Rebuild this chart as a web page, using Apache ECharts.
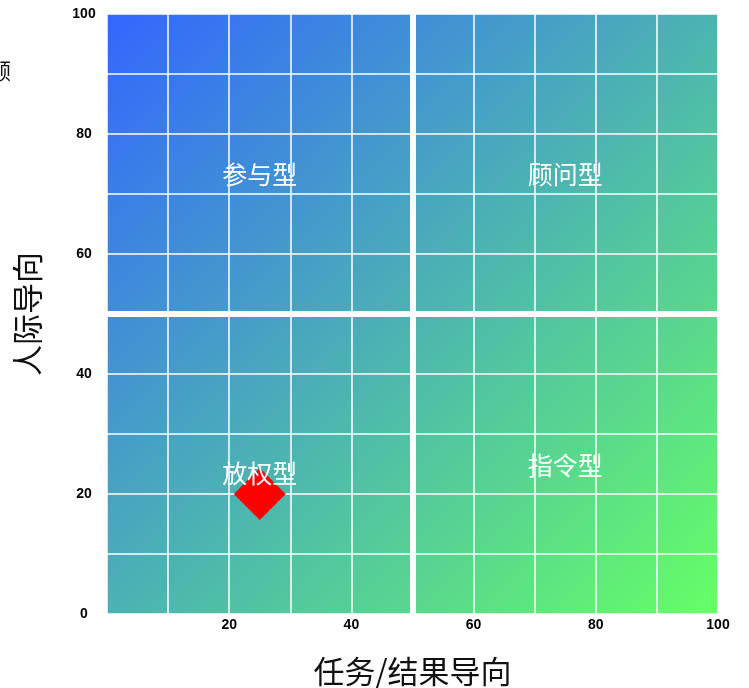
<!DOCTYPE html>
<html><head><meta charset="utf-8">
<script src="https://cdn.jsdelivr.net/npm/echarts@6/dist/echarts.min.js"></script>
<style>html,body{margin:0;padding:0;background:#fff}#c{width:749px;height:688px}</style>
</head><body><div id="c"></div>
<script>
// data
var quadrantNames = ['参与型', '顾问型', '放权型', '指令型'];
var quadrantX = [25, 75, 25, 75];
var quadrantY = [73.3, 73.3, 23.4, 24.7];
var pointX = [25];
var pointY = [20];
var xName = '任务/结果导向';
var yName = '人际导向';
var tickLabelStep = 20;

var chart = echarts.init(document.getElementById('c'));
var labelData = quadrantNames.map(function (n, i) { return { name: n, value: [quadrantX[i], quadrantY[i]] }; });
var pointData = pointX.map(function (x, i) { return [x, pointY[i]]; });

chart.setOption({
  animation: false,
  graphic: [{ type: 'text', left: -11, top: 60, style: { text: '顾', fontSize: 22, fill: '#111', fontFamily: 'Noto Sans CJK SC' } }],
  grid: {
    left: 107, top: 14, right: 31, bottom: 74, show: true, borderWidth: 0,
    outerBoundsMode: 'none', containLabel: false,
    backgroundColor: { type: 'linear', x: 0, y: 0, x2: 1, y2: 1, colorStops: [{ offset: 0, color: '#3366ff' }, { offset: 1, color: '#66ff66' }] }
  },
  xAxis: {
    type: 'value', min: 0, max: 100, interval: 10,
    name: xName, nameLocation: 'middle', nameGap: 42,
    nameTextStyle: { fontSize: 31, color: '#111', fontFamily: 'Noto Sans CJK SC' },
    axisLine: { show: false }, axisTick: { show: false },
    splitLine: { show: true, lineStyle: { color: '#fff', width: 1.5 } },
    axisLabel: {
      margin: 4, fontSize: 14, fontWeight: 'bold', color: '#000', fontFamily: 'Liberation Sans',
      formatter: function (v) { return (v > 0 && v % tickLabelStep === 0) ? String(v) : ''; }
    }
  },
  yAxis: {
    type: 'value', min: 0, max: 100, interval: 10,
    name: yName, nameLocation: 'middle', nameGap: 64, nameRotate: 90,
    nameTextStyle: { fontSize: 31, color: '#111', fontFamily: 'Noto Sans CJK SC' },
    axisLine: { show: false }, axisTick: { show: false },
    splitLine: { show: true, lineStyle: { color: '#fff', width: 1.5 } },
    axisLabel: {
      margin: 23, align: 'center', fontSize: 14, fontWeight: 'bold', color: '#000', fontFamily: 'Liberation Sans',
      formatter: function (v) { return v % tickLabelStep === 0 ? String(v) : ''; }
    }
  },
  series: [
    {
      type: 'scatter', data: [], silent: true,
      markLine: {
        silent: true, symbol: 'none', label: { show: false },
        lineStyle: { color: '#fff', width: 6, type: 'solid' },
        data: [{ xAxis: 50 }, { yAxis: 50 }]
      }
    },
    {
      type: 'scatter', symbol: 'diamond', symbolSize: 52, data: pointData, z: 3,
      itemStyle: { color: '#ff0000', opacity: 1 }
    },
    {
      type: 'scatter', symbolSize: 0, data: labelData, z: 5, silent: true,
      itemStyle: { opacity: 1 },
      label: { show: true, position: 'inside', formatter: '{b}', color: '#ffffff', opacity: 1, fontSize: 25, fontWeight: 'normal', fontFamily: 'Noto Sans CJK SC' }
    }
  ]
});
</script></body></html>
